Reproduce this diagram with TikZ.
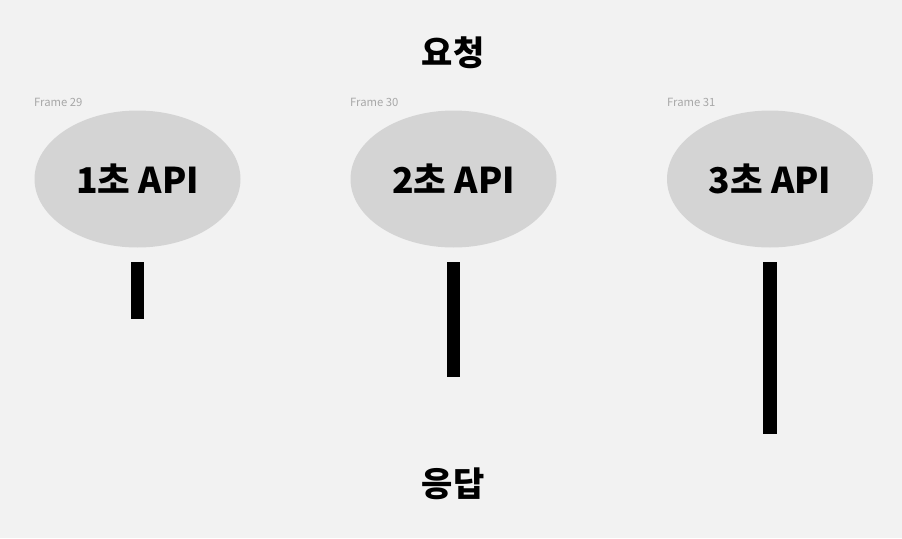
\documentclass[tikz,border=0pt]{standalone}
\usepackage{fontspec}
\setmainfont{Noto Sans CJK KR}
\usetikzlibrary{shapes.geometric}
\definecolor{bg}{HTML}{F2F2F2}
\definecolor{blob}{HTML}{D4D4D4}
\definecolor{framegray}{HTML}{A8A8A8}
\tikzset{
  apinode/.style={ellipse, fill=blob, minimum width=206pt, minimum height=137pt, inner sep=0pt,
    font=\fontsize{35.5}{38}\selectfont\bfseries, text=black},
  framelabel/.style={anchor=base west, inner sep=0pt, text=framegray, font=\fontsize{11.3}{13}\selectfont},
  bar/.style={fill=black},
  title/.style={font=\fontsize{34}{38}\selectfont\bfseries, text=black, inner sep=0pt}
}
\begin{document}
\begin{tikzpicture}[x=1pt,y=-1pt]
\fill[bg] (0,0) rectangle (902,538);
\useasboundingbox (0,0) rectangle (902,538);
\node[title] (req) at (453,53) {요청};
\node[title] (resp) at (453,484) {응답};
\node[framelabel] (f29) at (34,106) {Frame 29};
\node[framelabel] (f30) at (350,106) {Frame 30};
\node[framelabel] (f31) at (667,106) {Frame 31};
\node[apinode] (a1) at (137.5,179) {1초 API};
\node[apinode] (a2) at (453.5,179) {2초 API};
\node[apinode] (a3) at (770,179) {3초 API};
\fill[bar] (131,262) rectangle (144,319);
\fill[bar] (447,262) rectangle (460,377);
\fill[bar] (763,262) rectangle (777,434);
\end{tikzpicture}
\end{document}
